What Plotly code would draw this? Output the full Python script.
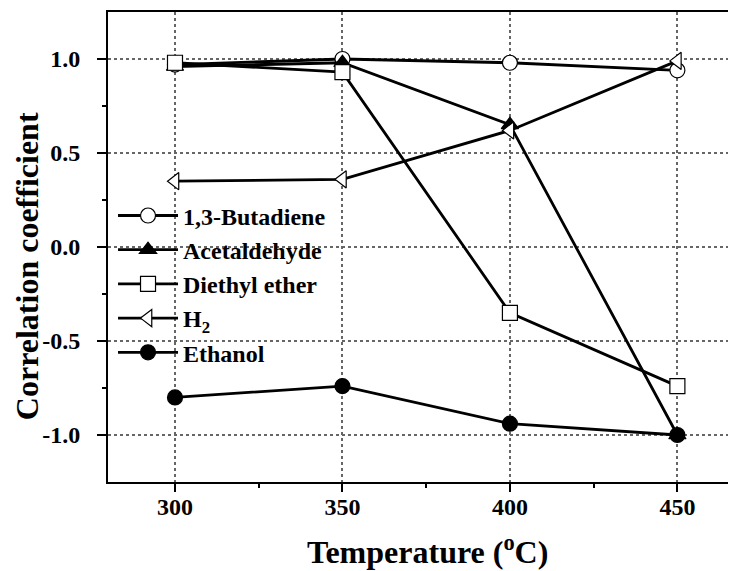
import plotly.graph_objects as go

temperature = [300, 350, 400, 450]
butadiene = [0.97, 1.00, 0.98, 0.94]
acetaldehyde = [0.96, 0.98, 0.65, -1.00]
diethyl_ether = [0.98, 0.93, -0.35, -0.74]
hydrogen = [0.35, 0.36, 0.62, 0.99]
ethanol = [-0.80, -0.74, -0.94, -1.00]

series = [
    ("1,3-Butadiene", butadiene, "circle", "white"),
    ("Acetaldehyde", acetaldehyde, "triangle-up", "black"),
    ("Diethyl ether", diethyl_ether, "square", "white"),
    ("H<sub>2</sub>", hydrogen, "triangle-left", "white"),
    ("Ethanol", ethanol, "circle", "black"),
]

fig = go.Figure()
for name, vals, sym, fill in series:
    fig.add_trace(go.Scatter(
        x=temperature, y=vals, name=name, mode="lines+markers",
        line=dict(color="black", width=2.8),
        marker=dict(symbol=sym, size=15, color=fill,
                    line=dict(color="black", width=1.2)),
    ))

font_family = "Liberation Serif, Times New Roman, serif"
tick_font = dict(family=font_family, size=24, color="black", weight="bold")
title_font = dict(family=font_family, size=32, color="black", weight="bold")

# page body has an 8px default margin: size the figure so it fills the window
fig.update_layout(
    width=728, height=563,
    margin=dict(l=100, r=0, t=4, b=89),
    plot_bgcolor="white", paper_bgcolor="white",
    font=dict(family=font_family, color="black", size=24),
    showlegend=True,
    legend=dict(
        x=0.008, y=0.614, xanchor="left", yanchor="top",
        bgcolor="rgba(0,0,0,0)", borderwidth=0,
        font=dict(family=font_family, size=24, color="black", weight="bold"),
        itemwidth=60, tracegroupgap=0,
    ),
    xaxis=dict(
        range=[280, 467.5], tickvals=[300, 350, 400, 450],
        showline=True, linecolor="black", linewidth=2, mirror=True,
        ticks="outside", ticklen=8, tickwidth=1.5, tickcolor="black",
        minor=dict(ticks="outside", ticklen=4, tickwidth=1.5, tickcolor="black",
                   tickvals=[325, 375, 425], showgrid=False),
        showgrid=True, gridcolor="#666666", griddash="dot", gridwidth=1.5,
        zeroline=False, ticklabelstandoff=-6,
        tickfont=tick_font,
    ),
    yaxis=dict(
        range=[-1.25, 1.25], tickvals=[-1.0, -0.5, 0.0, 0.5, 1.0],
        ticktext=["-1.0", "-0.5", "0.0", "0.5", "1.0"],
        showline=True, linecolor="black", linewidth=2, mirror=False,
        ticks="outside", ticklen=9, tickwidth=1.5, tickcolor="black",
        minor=dict(ticks="outside", ticklen=4, tickwidth=1.5, tickcolor="black",
                   tickvals=[-0.75, -0.25, 0.25, 0.75], showgrid=False),
        showgrid=True, gridcolor="#666666", griddash="dot", gridwidth=1.5,
        zeroline=False, ticklabelstandoff=12,
        tickfont=tick_font,
    ),
    annotations=[
        dict(text="Temperature (<sup>o</sup>C)", xref="paper", yref="paper",
             x=0.508, y=-0.145, xanchor="center", yanchor="middle",
             showarrow=False, font=title_font),
        dict(text="Correlation coefficient", xref="paper", yref="paper",
             x=-0.13, y=0.46, xanchor="center", yanchor="middle",
             textangle=-90, showarrow=False, font=title_font),
    ],
)

fig.write_html("out.html")
